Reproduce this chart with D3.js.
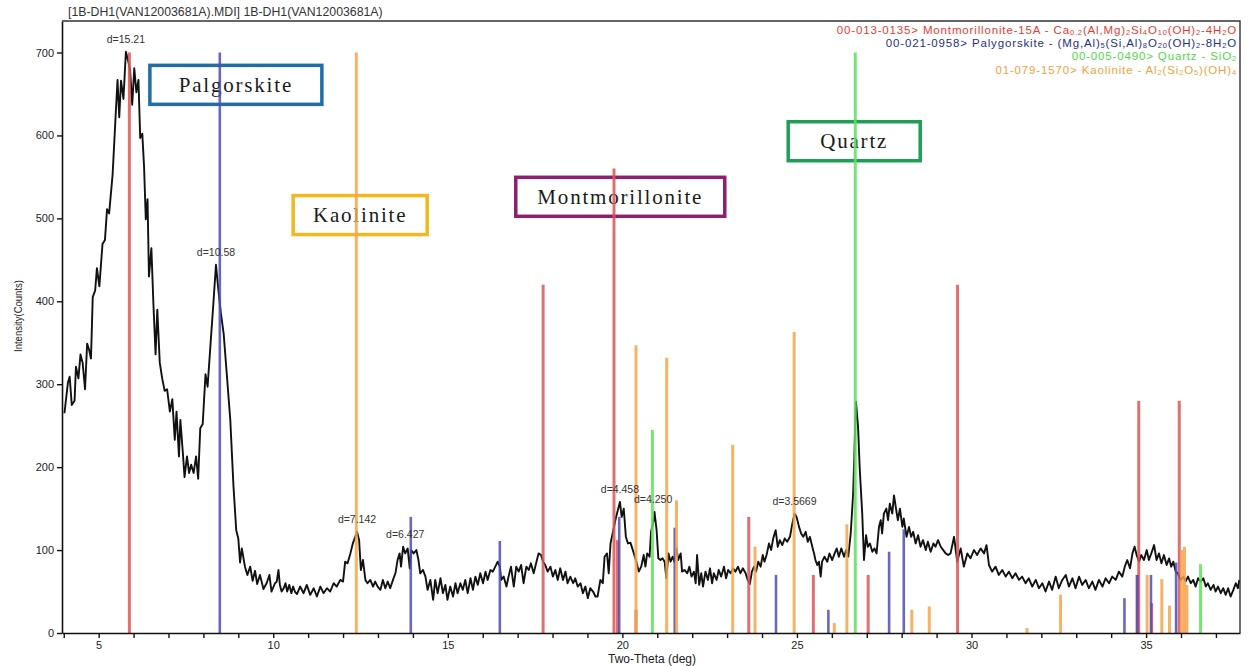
<!DOCTYPE html>
<html>
<head>
<meta charset="utf-8">
<script src="https://cdn.jsdelivr.net/npm/d3@7/dist/d3.min.js"></script>
<style>
  body { margin: 0; background: #fff; }
  svg { display: block; }
</style>
</head>
<body>
<svg id="chart" width="1250" height="666"></svg>
<script>
// ---- scan identity -------------------------------------------------------
const scanTitle = "[1B-DH1(VAN12003681A).MDI] 1B-DH1(VAN12003681A)";

// ---- measured pattern: [2-theta (deg), intensity (counts)] ----------------
const pattern = [
  [4.02,265],[4.12,302],[4.17,309],[4.23,275],[4.31,280],[4.35,321],[4.42,307],[4.48,336],[4.54,326],[4.61,294],
  [4.67,349],[4.73,341],[4.78,331],[4.83,405],[4.90,413],[4.95,440],[5.02,418],[5.11,469],[5.18,474],[5.24,511],
  [5.30,506],[5.40,553],[5.49,627],[5.54,667],[5.59,622],[5.64,666],[5.71,644],[5.78,701],[5.84,691],[5.90,679],
  [5.96,637],[6.02,681],[6.08,652],[6.14,667],[6.19,597],[6.25,602],[6.30,563],[6.35,499],[6.40,523],[6.44,430],
  [6.51,464],[6.57,395],[6.63,336],[6.68,390],[6.75,326],[6.82,307],[6.89,292],[6.96,294],[7.04,267],[7.11,282],
  [7.18,233],[7.23,267],[7.30,213],[7.34,257],[7.41,218],[7.46,188],[7.53,213],[7.59,193],[7.65,203],[7.72,193],
  [7.79,213],[7.85,186],[7.91,247],[7.98,252],[8.06,312],[8.12,297],[8.20,346],[8.29,400],[8.36,444],[8.43,413],
  [8.50,386],[8.58,361],[8.67,312],[8.77,257],[8.86,178],[8.94,124],[9.00,114],[9.05,85],[9.10,102],[9.19,80],
  [9.26,70],[9.34,80],[9.41,63],[9.48,75],[9.54,59],[9.62,70],[9.72,53],[9.81,60],[9.89,70],[9.95,50],
  [10.05,60],[10.10,62],[10.15,76],[10.19,58],[10.24,50],[10.30,54],[10.35,60],[10.40,50],[10.46,58],[10.52,48],
  [10.57,56],[10.62,50],[10.68,47],
  [10.77,56],[10.87,48],[10.96,58],[11.06,46],[11.16,54],[11.25,44],[11.35,56],[11.44,48],[11.54,54],[11.63,50],
  [11.73,60],[11.82,56],[11.92,64],[12.00,62],[12.06,86],[12.13,84],[12.21,96],[12.28,108],[12.35,116],[12.40,122],
  [12.46,112],[12.51,76],[12.57,88],[12.64,64],[12.70,60],[12.78,64],[12.86,56],[12.92,62],[12.99,56],[13.07,52],
  [13.14,64],[13.21,54],[13.28,62],[13.35,54],[13.43,64],[13.50,72],[13.56,88],[13.62,96],[13.66,80],[13.72,104],
  [13.78,96],[13.85,102],[13.91,78],[13.95,100],[14.02,96],[14.10,100],[14.16,88],[14.21,72],[14.29,76],[14.36,68],
  [14.42,52],[14.50,64],[14.58,40],[14.64,64],[14.71,48],[14.79,66],[14.86,48],[14.93,58],[14.99,40],[15.07,56],
  [15.15,44],[15.22,60],[15.28,48],[15.36,60],[15.43,52],[15.50,64],[15.57,48],[15.65,66],[15.72,52],[15.79,68],
  [15.86,58],[15.93,72],[16.01,60],[16.08,74],[16.14,64],[16.22,76],[16.29,74],[16.36,80],[16.43,86],[16.49,80],
  [16.53,64],[16.60,68],[16.68,56],[16.74,68],[16.81,80],[16.89,56],[16.96,80],[17.03,74],[17.10,82],[17.17,60],
  [17.25,80],[17.32,76],[17.38,84],[17.46,72],[17.54,86],[17.60,96],[17.67,94],[17.73,86],[17.79,82],[17.86,74],
  [17.94,80],[18.01,68],[18.08,76],[18.15,64],[18.22,78],[18.30,64],[18.37,74],[18.43,60],[18.51,68],[18.59,60],
  [18.65,66],[18.72,56],[18.80,60],[18.87,48],[18.94,56],[19.01,42],[19.08,54],[19.16,50],[19.23,44],[19.29,44],
  [19.37,64],[19.44,60],[19.49,92],[19.56,96],[19.61,72],[19.66,108],[19.71,118],[19.76,128],[19.81,138],[19.87,148],
  [19.93,158],[19.98,140],[20.04,150],[20.10,116],[20.16,108],[20.23,109],[20.33,96],[20.40,86],[20.47,74],[20.54,80],
  [20.61,94],[20.66,80],[20.71,96],[20.78,92],[20.82,122],[20.88,132],[20.92,146],[20.98,124],[21.03,90],[21.09,88],
  [21.15,90],[21.21,86],[21.26,66],[21.32,96],[21.38,86],[21.44,92],[21.49,86],[21.55,102],[21.60,88],[21.67,96],
  [21.71,74],[21.78,76],[21.86,72],[21.92,80],[21.98,68],[22.05,74],[22.10,60],[22.14,94],[22.20,58],[22.26,72],
  [22.31,56],[22.38,74],[22.45,64],[22.51,78],[22.57,60],[22.62,72],[22.70,64],[22.76,76],[22.83,68],[22.91,80],
  [22.97,66],[23.03,76],[23.10,72],[23.17,78],[23.24,74],[23.31,80],[23.38,72],[23.45,78],[23.53,72],[23.59,64],
  [23.65,59],[23.71,74],[23.77,80],[23.83,74],[23.89,86],[23.96,80],[24.02,94],[24.07,86],[24.13,94],[24.20,108],
  [24.26,100],[24.32,114],[24.39,124],[24.45,104],[24.51,112],[24.58,106],[24.65,114],[24.72,110],[24.80,116],[24.87,132],
  [24.93,144],[24.99,140],[25.06,128],[25.12,120],[25.18,116],[25.25,122],[25.31,110],[25.37,116],[25.44,104],[25.49,96],
  [25.53,88],[25.58,82],[25.63,86],[25.68,68],[25.72,86],[25.79,92],[25.87,86],[25.93,96],[26.01,88],[26.08,96],
  [26.14,102],[26.20,92],[26.27,102],[26.35,92],[26.41,100],[26.47,92],[26.54,120],[26.61,168],[26.69,279],[26.75,249],
  [26.80,197],[26.87,144],[26.92,88],[26.98,118],[27.03,104],[27.09,108],[27.16,98],[27.22,102],[27.28,96],[27.35,128],
  [27.40,136],[27.44,120],[27.49,144],[27.56,150],[27.61,136],[27.66,156],[27.73,144],[27.78,166],[27.83,152],[27.89,136],
  [27.95,150],[28.02,128],[28.06,138],[28.14,116],[28.21,128],[28.27,116],[28.33,122],[28.40,108],[28.47,118],[28.54,104],
  [28.61,112],[28.69,100],[28.75,110],[28.83,98],[28.91,108],[28.97,104],[29.04,112],[29.12,104],[29.19,100],[29.26,96],
  [29.33,94],[29.40,96],[29.50,116],[29.59,86],[29.69,102],[29.78,80],[29.88,96],[29.97,90],[30.07,100],[30.16,94],
  [30.26,102],[30.36,96],[30.43,106],[30.50,82],[30.59,74],[30.69,80],[30.78,70],[30.88,76],[30.98,68],[31.07,74],
  [31.17,66],[31.26,72],[31.36,64],[31.45,68],[31.55,60],[31.64,66],[31.74,56],[31.84,64],[31.93,54],[32.03,60],
  [32.12,50],[32.22,62],[32.31,52],[32.41,68],[32.50,54],[32.60,64],[32.70,70],[32.79,56],[32.89,66],[32.98,54],
  [33.08,68],[33.17,58],[33.27,64],[33.36,54],[33.46,62],[33.55,52],[33.65,64],[33.75,56],[33.84,66],[33.94,60],
  [34.03,68],[34.13,64],[34.22,74],[34.32,68],[34.39,80],[34.46,88],[34.54,78],[34.61,96],[34.67,104],[34.73,94],
  [34.80,86],[34.86,94],[34.94,88],[35.02,100],[35.08,88],[35.15,96],[35.23,106],[35.30,88],[35.37,96],[35.44,84],
  [35.51,94],[35.59,82],[35.66,90],[35.72,80],[35.78,86],[35.85,74],[35.91,72],[35.99,64],[36.07,68],[36.13,62],
  [36.20,68],[36.28,60],[36.35,64],[36.42,56],[36.49,66],[36.56,62],[36.64,66],[36.71,56],[36.77,60],[36.85,52],
  [36.93,58],[36.99,50],[37.06,56],[37.14,48],[37.21,54],[37.28,46],[37.35,54],[37.42,44],[37.50,52],[37.57,60],
  [37.63,54],[37.67,64]
];

// ---- reference patterns: [2-theta (deg), relative intensity (counts scale)] --
const montmorillonitePeaks = [
  [5.88,700],[17.73,420],[19.76,560],[19.86,112],[20.39,28],[23.62,140],[25.47,70],[27.04,70],
  [29.60,420],[34.74,70],[34.79,280],[35.16,36],[35.95,280]
];
const palygorskitePeaks = [
  [8.47,700],[13.94,140],[16.49,111],[19.91,140],[21.50,127],[24.40,70],[25.90,28],[27.64,98],
  [28.06,125],[34.38,42],[34.75,70],[35.14,70],[35.86,85]
];
const quartzPeaks = [
  [20.86,245],[26.67,700],[36.56,83]
];
const kaolinitePeaks = [
  [12.38,700],[20.39,347],[21.27,332],[21.55,160],[23.16,227],[23.80,104],[24.92,363],[26.07,12],
  [26.43,131],[28.29,28],[28.79,32],[31.59,6],[32.55,46],[35.03,70],[35.45,65],[35.67,33],
  [36.02,100],[36.10,104],[36.17,58]
];

// ---- card legend (text with _{..} marking subscripts) ----------------------
const cardNames = ["Montmorillonite", "Palygorskite", "Quartz", "Kaolinite"];
const cardLabels = [
  "00-013-0135> Montmorillonite-15A - Ca_{0.2}(Al,Mg)_{2}Si_{4}O_{10}(OH)_{2}-4H_{2}O",
  "00-021-0958> Palygorskite - (Mg,Al)_{5}(Si,Al)_{8}O_{20}(OH)_{2}-8H_{2}O",
  "00-005-0490> Quartz - SiO_{2}",
  "01-079-1570> Kaolinite - Al_{2}(Si_{2}O_{5})(OH)_{4}"
];

// ---- peak annotations ------------------------------------------------------
const peakLabels = ["d=15.21", "d=10.58", "d=7.142", "d=6.427", "d=4.458", "d=4.250", "d=3.5669"];
const peakLabelAngles = [5.78, 8.36, 12.40, 13.78, 19.93, 20.88, 24.93];
const peakLabelCounts = [701, 444, 122, 104, 158, 146, 144];

// ---- phase call-outs -------------------------------------------------------
const phaseNames = ["Palgorskite", "Kaolinite", "Montmorillonite", "Quartz"];

// ---- axis ticks ------------------------------------------------------------
const yTicks = [0, 100, 200, 300, 400, 500, 600, 700];
const xTickLabels = [5, 10, 15, 20, 25, 30, 35];

// ===========================================================================
const svg = d3.select("#chart");
const W = 1250, H = 666;
const plot = { left: 62, right: 1240, top: 21, bottom: 633 };
const SANS = "'Liberation Sans', Arial, Helvetica, sans-serif";
const SERIF = "'Liberation Serif', 'Times New Roman', serif";

const x = d3.scaleLinear().domain([3.95, 37.69]).range([plot.left, plot.right]);
const y = d3.scaleLinear().domain([0, 738]).range([plot.bottom, plot.top]);

svg.append("rect").attr("width", W).attr("height", H).attr("fill", "#fff");

// title
svg.append("text")
  .attr("x", 68).attr("y", 16)
  .attr("font-family", SANS).attr("font-size", 12.3).attr("fill", "#333")
  .text(scanTitle);

// phase call-out boxes (drawn under the sticks, which cross them)
const callouts = [
  { tt: 8.93,  c: 661, w: 172, color: "#1f6ea8" },
  { tt: 12.49, c: 504, w: 134, color: "#f2b81e" },
  { tt: 19.94, c: 526, w: 209, color: "#8c1f6e" },
  { tt: 26.64, c: 593, w: 132, color: "#1f9e55" }
];
const boxH = 39;
const cg = svg.append("g");
phaseNames.forEach((name, i) => {
  const o = callouts[i];
  const cx = x(o.tt), cy = y(o.c);
  cg.append("rect")
    .attr("x", cx - o.w / 2).attr("y", cy - boxH / 2)
    .attr("width", o.w).attr("height", boxH)
    .attr("fill", "none").attr("stroke", o.color).attr("stroke-width", 3.5);
  cg.append("text")
    .attr("x", cx).attr("y", cy + 7)
    .attr("text-anchor", "middle")
    .attr("font-family", SERIF).attr("font-size", 21)
    .attr("letter-spacing", 1.8)
    .attr("fill", "#1a1a1a")
    .text(name);
});

// measured trace
const line = d3.line().x(d => x(d[0])).y(d => y(d[1]));
svg.append("path")
  .datum(pattern)
  .attr("d", line)
  .attr("fill", "none")
  .attr("stroke", "#111")
  .attr("stroke-width", 1.9)
  .attr("stroke-linejoin", "round");

// reference sticks
const stickSets = [
  { data: montmorillonitePeaks, color: "#dd5656", w: 3 },
  { data: palygorskitePeaks,    color: "#4d4db6", w: 2.6 },
  { data: quartzPeaks,          color: "#5ee05a", w: 3 },
  { data: kaolinitePeaks,       color: "#f5a44c", w: 3 }
];
stickSets.forEach(s => {
  svg.append("g").selectAll("line")
    .data(s.data).join("line")
    .attr("x1", d => x(d[0])).attr("x2", d => x(d[0]))
    .attr("y1", y(0)).attr("y2", d => y(d[1]))
    .attr("stroke", s.color).attr("stroke-width", s.w)
    .attr("stroke-opacity", 0.85);
});

// peak d-spacing labels
svg.append("g").selectAll("text")
  .data(peakLabels).join("text")
  .attr("x", (d, i) => x(peakLabelAngles[i]))
  .attr("y", (d, i) => y(peakLabelCounts[i]) - 9)
  .attr("text-anchor", "middle")
  .attr("font-family", SANS).attr("font-size", 10.5).attr("fill", "#333")
  .text(d => d);

// card legend, right aligned
const legendColors = ["#e83a35", "#1f2f8c", "#4fd84a", "#f0a23e"];
cardLabels.forEach((lab, i) => {
  const t = svg.append("text")
    .attr("x", 1237).attr("y", 34 + i * 13.2)
    .attr("text-anchor", "end")
    .attr("font-family", SANS).attr("font-size", 11.5)
    .attr("letter-spacing", 0.85)
    .attr("fill", legendColors[i]);
  const parts = lab.split(/(_\{[^}]*\})/).filter(p => p.length);
  let shifted = false;
  parts.forEach(p => {
    if (p.startsWith("_{")) {
      t.append("tspan").attr("dy", shifted ? 0 : 1).attr("font-size", 7.5).text(p.slice(2, -1));
      shifted = true;
    } else {
      t.append("tspan").attr("dy", shifted ? -1 : 0).text(p);
      shifted = false;
    }
  });
});

// axes
const xAxis = d3.axisBottom(x)
  .tickValues(d3.range(4, 38))
  .tickFormat(d => xTickLabels.includes(d) ? d : "")
  .tickSize(5).tickSizeOuter(0);
const yAxis = d3.axisLeft(y)
  .tickValues(yTicks)
  .tickSize(5).tickSizeOuter(0);

const gx = svg.append("g").attr("transform", `translate(0,${plot.bottom})`).call(xAxis);
const gy = svg.append("g").attr("transform", `translate(${plot.left},0)`).call(yAxis);
[gx, gy].forEach(g => {
  g.selectAll("path.domain").attr("stroke", "#111").attr("stroke-width", 1.6);
  g.selectAll(".tick line").attr("stroke", "#111").attr("stroke-width", 1.4);
  g.selectAll(".tick text").attr("font-family", SANS).attr("font-size", 11).attr("fill", "#222");
});
gx.selectAll(".tick text").attr("dy", "0.75em");

// frame (top and right)
svg.append("path")
  .attr("d", `M${plot.left},${plot.top}H${plot.right}V${plot.bottom}`)
  .attr("fill", "none").attr("stroke", "#333").attr("stroke-width", 1.4);

// axis titles
svg.append("text")
  .attr("x", (plot.left + plot.right) / 2 + 1).attr("y", 662.5)
  .attr("text-anchor", "middle")
  .attr("font-family", SANS).attr("font-size", 12).attr("fill", "#222")
  .text("Two-Theta (deg)");
svg.append("text")
  .attr("transform", "translate(22,316) rotate(-90)")
  .attr("text-anchor", "middle")
  .attr("font-family", SANS).attr("font-size", 11).attr("fill", "#222")
  .attr("textLength", 72).attr("lengthAdjust", "spacingAndGlyphs")
  .text("Intensity(Counts)");
</script>
</body>
</html>
